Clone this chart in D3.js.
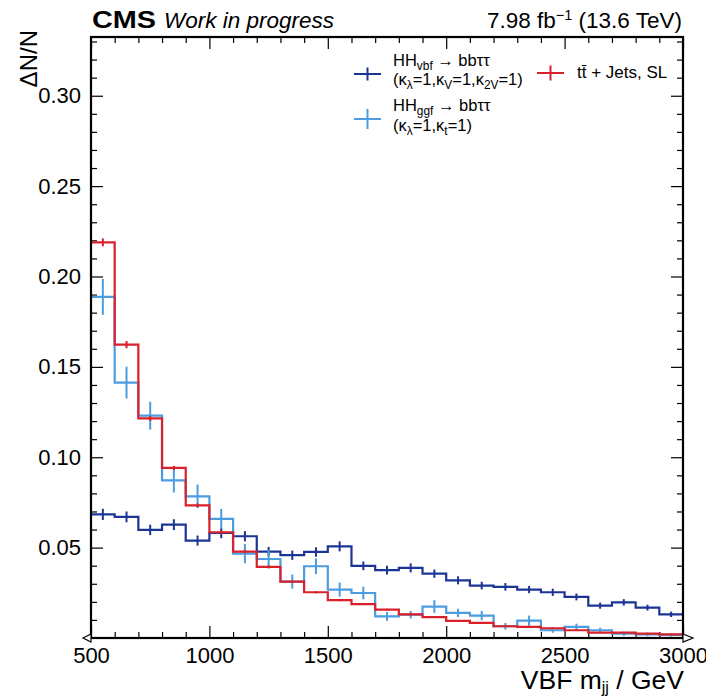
<!DOCTYPE html>
<html>
<head>
<meta charset="utf-8">
<script src="https://cdn.jsdelivr.net/npm/d3@7"></script>
<style>
  body { margin: 0; background: #fff; }
  svg text { font-family: "Liberation Sans", Arial, Helvetica, sans-serif; fill: #000; }
</style>
</head>
<body>
<div id="chart"></div>
<script>
// bin edges of VBF m_jj (GeV)
const binEdges = [500, 600, 700, 800, 900, 1000, 1100, 1200, 1300, 1400, 1500, 1600, 1700,
                  1800, 1900, 2000, 2100, 2200, 2300, 2400, 2500, 2600, 2700, 2800, 2900, 3000];

// normalised yields per bin
const vbfValues = [0.0684, 0.0670, 0.0598, 0.0627, 0.0539, 0.0581, 0.0563, 0.0478, 0.0458, 0.0476,
                   0.0507, 0.0399, 0.0376, 0.0388, 0.0356, 0.0319, 0.0290, 0.0283, 0.0268, 0.0253,
                   0.0227, 0.0179, 0.0197, 0.0168, 0.0131];
const vbfErrors = [0.0031, 0.0030, 0.0029, 0.0030, 0.0028, 0.0029, 0.0028, 0.0026, 0.0026, 0.0026,
                   0.0028, 0.0024, 0.0024, 0.0025, 0.0023, 0.0022, 0.0021, 0.0021, 0.0020, 0.0020,
                   0.0019, 0.0017, 0.0018, 0.0016, 0.0015];

const ggfValues = [0.1887, 0.1413, 0.1230, 0.0872, 0.0784, 0.0659, 0.0467, 0.0437, 0.0312, 0.0397,
                   0.0268, 0.0249, 0.0120, 0.0129, 0.0174, 0.0139, 0.0124, 0.0065, 0.0096, 0.0043,
                   0.0061, 0.0043, 0.0024, 0.0020, 0.0017];
const ggfErrors = [0.0099, 0.0088, 0.0077, 0.0067, 0.0065, 0.0055, 0.0053, 0.0050, 0.0039, 0.0043,
                   0.0039, 0.0035, 0.0024, 0.0021, 0.0035, 0.0023, 0.0026, 0.0018, 0.0028, 0.0014,
                   0.0018, 0.0014, 0.0012, 0.0010, 0.0010];

const ttValues = [0.2189, 0.1623, 0.1215, 0.0941, 0.0734, 0.0585, 0.0478, 0.0393, 0.0312, 0.0253,
                  0.0209, 0.0187, 0.0157, 0.0131, 0.0115, 0.0095, 0.0084, 0.0065, 0.0061, 0.0054,
                  0.0043, 0.0030, 0.0030, 0.0024, 0.0020];
const ttErrors = [0.0022, 0.0020, 0.0014, 0.0012, 0.0011, 0.0010, 0.0009, 0.0008, 0.0007, 0.0006,
                  0.0006, 0.0005, 0.0005, 0.0005, 0.0004, 0.0004, 0.0004, 0.0003, 0.0003, 0.0003,
                  0.0003, 0.0002, 0.0002, 0.0002, 0.0002];

const xMajorTicks = [500, 1000, 1500, 2000, 2500, 3000];
const yMajorTicks = [0.05, 0.10, 0.15, 0.20, 0.25, 0.30];

const W = 706, H = 696;
const plotLeft = 91, plotRight = 683, plotTop = 37, plotBottom = 638;

const series = [
  {name: "vbf", values: vbfValues, errors: vbfErrors, color: "#1c3494"},
  {name: "ggf", values: ggfValues, errors: ggfErrors, color: "#4c9ce0"},
  {name: "tt",  values: ttValues,  errors: ttErrors,  color: "#d9202b"}
];

const svg = d3.select("#chart").append("svg")
  .attr("width", W).attr("height", H);

const x = d3.scaleLinear().domain([500, 3000]).range([plotLeft, plotRight]);
const y = d3.scaleLinear().domain([0, 0.3325]).range([plotBottom, plotTop]);

// minor tick positions every 100 GeV / 0.01
const xMinor = binEdges.filter(e => !xMajorTicks.includes(e));
const yMinor = d3.range(1, 34).map(i => i / 100).filter(v => Math.abs(v * 20 - Math.round(v * 20)) > 1e-6);

const fmtY = d3.format(".2f");

function tidy(g, sw) {
  g.select(".domain").remove();
  g.selectAll("line").attr("stroke-width", sw);
  g.selectAll("text").attr("font-family", null).attr("font-size", null).style("font-size", "22px");
}

// bottom axis
svg.append("g").attr("transform", `translate(0,${plotBottom})`)
  .call(d3.axisBottom(x).tickValues(xMajorTicks).tickSize(-12).tickPadding(9).tickFormat(d3.format("d")))
  .call(g => tidy(g, 1.2));
svg.append("g").attr("transform", `translate(0,${plotBottom})`)
  .call(d3.axisBottom(x).tickValues(xMinor).tickSize(-6).tickFormat(""))
  .call(g => tidy(g, 1.2));

// top axis (ticks only)
svg.append("g").attr("transform", `translate(0,${plotTop})`)
  .call(d3.axisTop(x).tickValues(xMajorTicks).tickSize(-12).tickFormat(""))
  .call(g => tidy(g, 1.2));
svg.append("g").attr("transform", `translate(0,${plotTop})`)
  .call(d3.axisTop(x).tickValues(xMinor).tickSize(-6).tickFormat(""))
  .call(g => tidy(g, 1.2));

// left axis
svg.append("g").attr("transform", `translate(${plotLeft},0)`)
  .call(d3.axisLeft(y).tickValues(yMajorTicks).tickSize(-12).tickPadding(10).tickFormat(fmtY))
  .call(g => tidy(g, 1.2));
svg.append("g").attr("transform", `translate(${plotLeft},0)`)
  .call(d3.axisLeft(y).tickValues(yMinor).tickSize(-6).tickFormat(""))
  .call(g => tidy(g, 1.2));

// right axis (ticks only)
svg.append("g").attr("transform", `translate(${plotRight},0)`)
  .call(d3.axisRight(y).tickValues(yMajorTicks).tickSize(-12).tickFormat(""))
  .call(g => tidy(g, 1.2));
svg.append("g").attr("transform", `translate(${plotRight},0)`)
  .call(d3.axisRight(y).tickValues(yMinor).tickSize(-6).tickFormat(""))
  .call(g => tidy(g, 1.2));

// histograms
const line = d3.line().curve(d3.curveStepAfter);

series.forEach(s => {
  const pts = s.values.map((v, i) => [x(binEdges[i]), y(v)]);
  pts.push([x(binEdges[binEdges.length - 1]), y(s.values[s.values.length - 1])]);

  const g = svg.append("g").attr("class", "hist-" + s.name);
  g.append("path")
    .attr("d", line(pts))
    .attr("fill", "none")
    .attr("stroke", s.color)
    .attr("stroke-width", 2.2);

  g.selectAll("line.err")
    .data(s.values)
    .enter()
    .append("line")
    .attr("class", "err")
    .attr("x1", (d, i) => x((binEdges[i] + binEdges[i + 1]) / 2))
    .attr("x2", (d, i) => x((binEdges[i] + binEdges[i + 1]) / 2))
    .attr("y1", (d, i) => y(d - s.errors[i]))
    .attr("y2", (d, i) => y(d + s.errors[i]))
    .attr("stroke", s.color)
    .attr("stroke-width", 2);
});

// frame
svg.append("rect")
  .attr("x", plotLeft).attr("y", plotTop)
  .attr("width", plotRight - plotLeft).attr("height", plotBottom - plotTop)
  .attr("fill", "none").attr("stroke", "#000").attr("stroke-width", 2.2);

// little arrow heads at the ends of the x axis
svg.append("path")
  .attr("d", `M${plotLeft},${plotBottom - 4} L${plotLeft - 8},${plotBottom} L${plotLeft},${plotBottom + 4} Z`)
  .attr("fill", "#fff").attr("stroke", "#000").attr("stroke-width", 1.2);
svg.append("path")
  .attr("d", `M${plotRight},${plotBottom - 4} L${plotRight + 10},${plotBottom} L${plotRight},${plotBottom + 4} Z`)
  .attr("fill", "#fff").attr("stroke", "#000").attr("stroke-width", 1.2);

// axis titles
svg.append("text")
  .attr("transform", "translate(37,30) rotate(-90)")
  .attr("text-anchor", "end")
  .style("font-size", "24px")
  .text("ΔN/N");

const xl = svg.append("text")
  .attr("x", plotRight + 1).attr("y", 689)
  .attr("text-anchor", "end")
  .style("font-size", "26.5px");
xl.append("tspan").text("VBF m");
xl.append("tspan").attr("dy", 4).style("font-size", "16px").text("jj");
xl.append("tspan").attr("dy", -4).text(" / GeV");

// header
svg.append("text")
  .attr("x", 92).attr("y", 28)
  .attr("textLength", 64).attr("lengthAdjust", "spacingAndGlyphs")
  .style("font-size", "24px").style("font-weight", "bold")
  .text("CMS");
svg.append("text")
  .attr("x", 164).attr("y", 28)
  .style("font-size", "22.5px").style("font-style", "italic")
  .text("Work in progress");

const lumi = svg.append("text")
  .attr("x", 682).attr("y", 28)
  .attr("text-anchor", "end")
  .style("font-size", "22.5px");
lumi.append("tspan").text("7.98 fb");
lumi.append("tspan").attr("dy", -8).style("font-size", "14.5px").text("\u22121");
lumi.append("tspan").attr("dy", 8).text(" (13.6 TeV)");

// legend
const legend = svg.append("g").attr("class", "legend");

function legendCross(cx, cy, half, color) {
  legend.append("line")
    .attr("x1", cx - 13.5).attr("x2", cx + 13.5).attr("y1", cy).attr("y2", cy)
    .attr("stroke", color).attr("stroke-width", 2);
  legend.append("line")
    .attr("x1", cx).attr("x2", cx).attr("y1", cy - half).attr("y2", cy + half)
    .attr("stroke", color).attr("stroke-width", 2);
}

function subText(g, parts, xPos, yPos, size) {
  const t = g.append("text").attr("x", xPos).attr("y", yPos).style("font-size", size + "px");
  let shift = 0;
  parts.forEach(p => {
    const target = p.sub ? 3.5 : 0;
    t.append("tspan")
      .attr("dy", target - shift)
      .style("font-size", (p.sub ? size * 0.72 : size) + "px")
      .text(p.t);
    shift = target;
  });
  return t;
}

legendCross(367.5, 74, 6.5, series[0].color);
subText(legend, [{t: "HH"}, {t: "vbf", sub: true}, {t: " \u2192 bb\u03c4\u03c4"}], 393, 66, 16.5);
subText(legend, [{t: "(\u03ba"}, {t: "\u03bb", sub: true}, {t: "=1,\u03ba"}, {t: "V", sub: true},
                 {t: "=1,\u03ba"}, {t: "2V", sub: true}, {t: "=1)"}], 393, 85, 16.5);

legendCross(367.5, 119, 10, series[1].color);
subText(legend, [{t: "HH"}, {t: "ggf", sub: true}, {t: " \u2192 bb\u03c4\u03c4"}], 393, 111, 16.5);
subText(legend, [{t: "(\u03ba"}, {t: "\u03bb", sub: true}, {t: "=1,\u03ba"}, {t: "t", sub: true},
                 {t: "=1)"}], 393, 131, 16.5);

legendCross(550.5, 73, 7.5, series[2].color);
subText(legend, [{t: "tt\u0304 + Jets, SL"}], 577, 78, 17);
</script>
</body>
</html>
